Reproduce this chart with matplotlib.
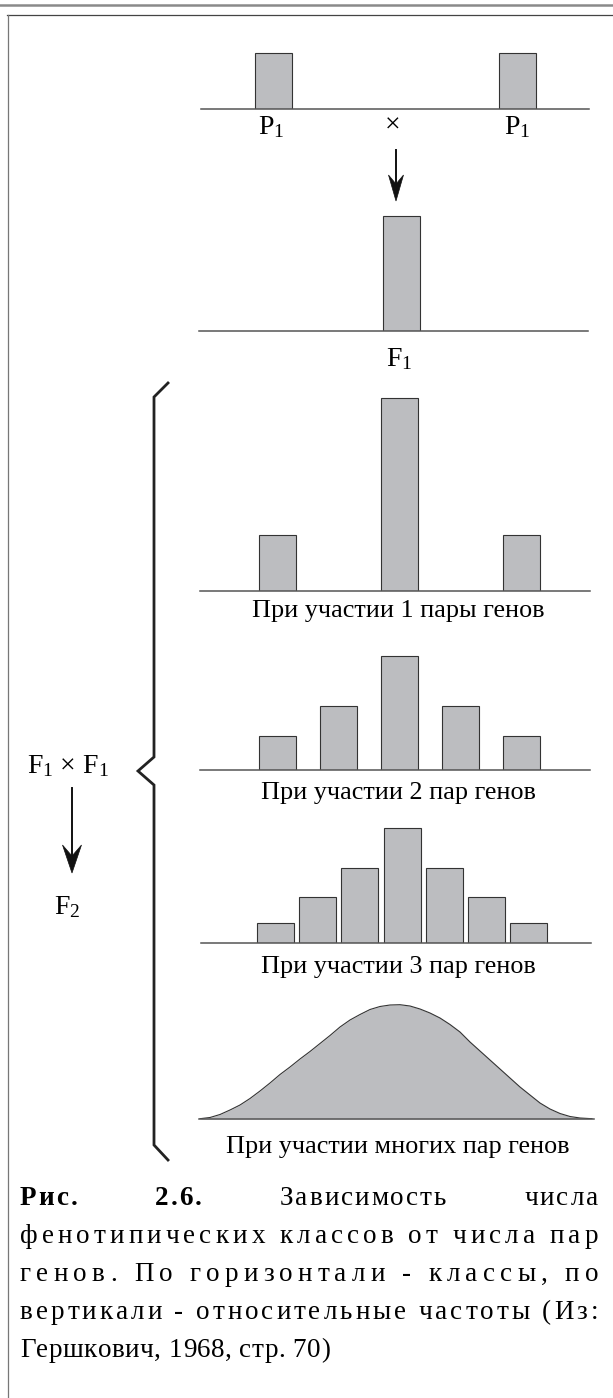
import numpy as np
import matplotlib
matplotlib.use("Agg")
import matplotlib.pyplot as plt
from matplotlib.patches import Polygon

plt.rcParams["font.family"] = ["Liberation Serif", "DejaVu Serif"]
plt.rcParams["mathtext.fontset"] = "custom"
plt.rcParams["mathtext.rm"] = "Liberation Serif"
plt.rcParams["mathtext.it"] = "Liberation Serif:italic"

W, H = 613, 1398

# relative frequencies of phenotypic classes (heights)
parents = [56, 0, 56]
f1 = [0, 115, 0]
one_pair = [56, 193, 56]
two_pairs = [34, 64, 114, 64, 34]
three_pairs = [20, 46, 75, 115, 75, 46, 20]

# many gene pairs: smooth curve, offsets from the peak and heights
many_x = [-198, -188, -178, -168, -158, -148, -138, -128, -118, -108, -98,
          -88, -78, -68, -58, -48, -38, -28, -18, -8, 2,
          12, 22, 32, 42, 52, 62, 72, 82, 92, 102,
          112, 122, 132, 142, 152, 162, 172, 182, 194]
many_y = [0.3, 1.5, 4.5, 9, 14, 20.5, 28, 36, 44.5, 52, 60,
          67.5, 75.5, 83.5, 92, 99, 104.5, 109.5, 112.5, 114, 114.3,
          113, 110, 106, 101, 94.5, 87, 77, 68, 59, 50,
          41, 32, 24, 16, 10, 5.5, 2.5, 1, 0.3]

panel_labels = ["При участии 1 пары генов", "При участии 2 пар генов",
                "При участии 3 пар генов", "При участии многих пар генов"]

caption = [
    "Рис. 2.6. Зависимость числа",
    "фенотипических классов от числа пар",
    "генов. По горизонтали - классы, по",
    "вертикали - относительные частоты (Из:",
    "Гершкович, 1968, стр. 70)",
]
bold_words = ["Рис.", "2.6."]

FILL = "#bcbdc0"
EDGE = "#333333"
BASE = "#555555"
BAR_W = 37
FS_F = 20
FS_LAB = 18.8
FS_CAP = 19.5

fig = plt.figure(figsize=(W / 100, H / 100), dpi=100)
ov = fig.add_axes([0, 0, 1, 1])
ov.set_xlim(0, W)
ov.set_ylim(H, 0)
ov.axis("off")


def panel(x0, x1, base, center, step):
    ax = fig.add_axes([x0 / W, 1 - base / H, (x1 - x0) / W, 220 / H])
    ax.set_xlim((x0 - center) / step, (x1 - center) / step)
    ax.set_ylim(0, 220)
    ax.axis("off")
    ax.patch.set_alpha(0)
    ax.axhline(0, color=BASE, lw=1.1, clip_on=False, zorder=3)
    return ax


def bars(ax, heights, step):
    h = np.array(heights, dtype=float)
    idx = np.arange(len(h)) - (len(h) - 1) / 2
    keep = h > 0
    ax.bar(idx[keep], h[keep], width=BAR_W / step, color=FILL,
           edgecolor=EDGE, linewidth=0.8, zorder=2)


# page decoration: top rule and the frame
ov.plot([0, W], [5, 5], color="#8a8a8a", lw=1.8)
ov.plot([7, W], [14.5, 14.5], color="#444444", lw=0.9)
ov.plot([7.5, 7.5], [14.5, H], color="#777777", lw=0.9)

# P1 x P1
ax = panel(200.5, 589, 109, 395.5, 122)
bars(ax, parents, 122)
for xc in (271, 517):
    ov.text(xc, 134, r"P$_1$", fontsize=FS_F, ha="center", va="baseline")
ov.text(393, 133, "×", fontsize=FS_F, ha="center", va="baseline")

# F1
ax = panel(199, 588, 331, 401, 122)
bars(ax, f1, 122)
ov.text(399, 366, r"F$_1$", fontsize=FS_F, ha="center", va="baseline")

# F2 panels
ax = panel(200, 590, 591, 399.3, 122)
bars(ax, one_pair, 122)
ax = panel(200, 590, 770, 399.8, 61)
bars(ax, two_pairs, 61)
ax = panel(201, 591, 943, 402, 42.2)
bars(ax, three_pairs, 42.2)
ax = panel(199, 594, 1119, 398, 1)
ax.fill_between(many_x, many_y, 0, color=FILL, lw=0, zorder=1)
ax.plot(many_x, many_y, color=EDGE, lw=0.8, zorder=2)

for lab, y in zip(panel_labels, [617, 799, 973, 1153]):
    ov.text(398, y, lab, fontsize=FS_LAB, ha="center", va="baseline")


def arrow(x, y0, y1, hl, hw, notch):
    ov.plot([x, x], [y0, y1 - hl + notch], color="#111111", lw=1.4)
    ov.add_patch(Polygon([(x, y1), (x + hw / 2, y1 - hl), (x, y1 - hl + notch),
                          (x - hw / 2, y1 - hl)], closed=True,
                         facecolor="#111111", edgecolor="#111111", lw=0.5))


arrow(396, 150, 201, 26, 15, 9)
arrow(72, 788, 873, 28, 19, 11)

# brace
ov.plot([168, 154, 154, 138, 154, 154, 168],
        [383, 397, 757, 771, 785, 1145, 1160], color="#222222", lw=2.0,
        solid_joinstyle="miter")
ov.text(68, 773, r"F$_1$ × F$_1$", fontsize=FS_F, ha="center", va="baseline")
ov.text(67, 914, r"F$_2$", fontsize=FS_F, ha="center", va="baseline")

# caption, justified like in the book
fig.canvas.draw()
rend = fig.canvas.get_renderer()
cache = {}


def cw(ch, weight):
    key = (ch, weight)
    if key not in cache:
        if ch == " ":
            a = ov.text(0, 0, "a a", fontsize=FS_CAP, fontweight=weight)
            b = ov.text(0, 0, "aa", fontsize=FS_CAP, fontweight=weight)
            cache[key] = a.get_window_extent(rend).width - b.get_window_extent(rend).width
            a.remove()
            b.remove()
        else:
            t = ov.text(0, 0, ch, fontsize=FS_CAP, fontweight=weight)
            cache[key] = t.get_window_extent(rend).width
            t.remove()
    return cache[key]


L, R = 20, 598
base_y = [1205, 1243, 1281, 1319, 1357]
for i, (line, y) in enumerate(zip(caption, base_y)):
    words = line.split(" ")
    if i == 0:
        tr = 2.0
        ws = [sum(cw(c, "bold" if w in bold_words else "normal") for c in w)
              + tr * (len(w) - 1) for w in words]
        gap = (R - L - sum(ws)) / (len(words) - 1)
        x = L
        for w, wd in zip(words, ws):
            wt = "bold" if w in bold_words else "normal"
            for c in w:
                ov.text(x, y, c, fontsize=FS_CAP, fontweight=wt, va="baseline")
                x += cw(c, wt) + tr
            x += gap - tr
    else:
        chars = list(line)
        nat = sum(cw(c, "normal") for c in chars)
        tr = (R - L - nat) / (len(chars) - 1) if i < 4 else 0.5
        x = L
        for c in chars:
            if c != " ":
                ov.text(x, y, c, fontsize=FS_CAP, va="baseline")
            x += cw(c, "normal") + tr

fig.savefig("out.png", dpi=100)
